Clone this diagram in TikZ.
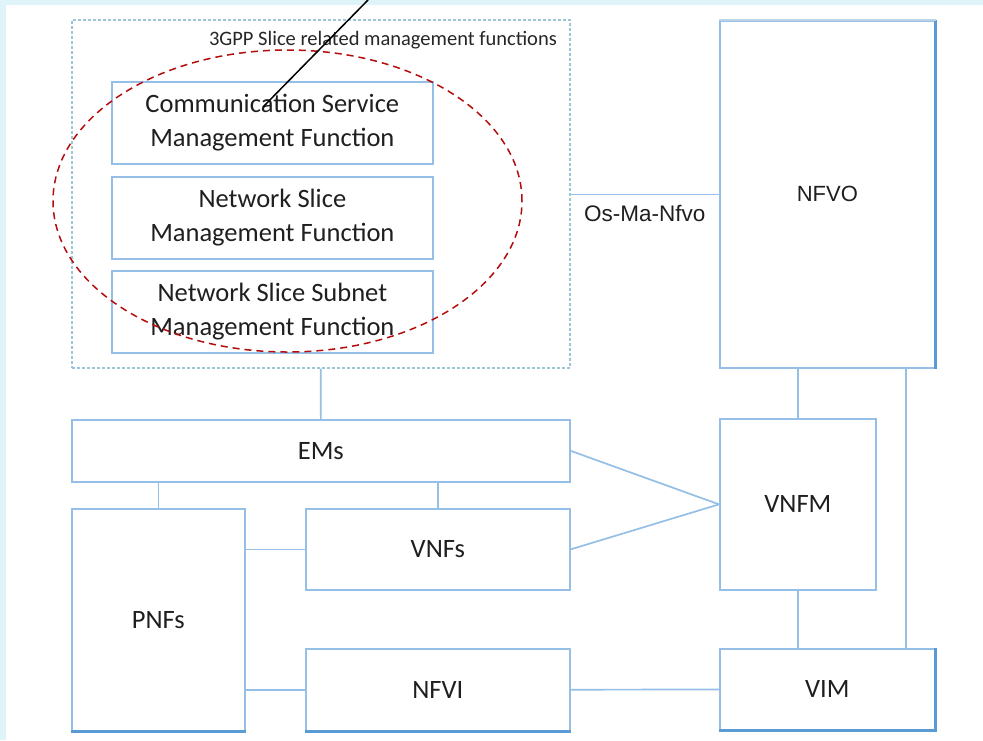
\documentclass[tikz,border=0pt]{standalone}
\usepackage{fontspec}
\setmainfont{Carlito}
\newfontfamily\arialfont{Liberation Sans}
\usetikzlibrary{positioning}
\definecolor{boxblue}{HTML}{95BFE6}
\definecolor{rimblue}{HTML}{5B9BD5}
\definecolor{rimpale}{HTML}{BDD3E8}
\definecolor{groupgray}{HTML}{9CC6D6}
\definecolor{ringred}{HTML}{B40C0C}
\definecolor{pagecyan}{HTML}{DFF4F9}

\begin{document}
\begin{tikzpicture}[x=1pt,y=-1pt,
	fnbox/.style={draw=boxblue, line width=1.7pt, inner sep=0pt, align=center, anchor=north west,
		text=black!88, font=\fontsize{26.5}{34}\selectfont},
	nfvbox/.style={fnbox, font=\arialfont\fontsize{22}{26}\selectfont},
	link/.style={draw=boxblue, line width=1.7pt},
	rim/.style={draw=rimblue, line width=2.8pt},
	ring/.style={draw=ringred, line width=1.5pt, dash pattern=on 7pt off 5pt}]
	\fill[pagecyan] (0,0) rectangle (983,740);
	\fill[white] (6,5) rectangle (983,740);
	\useasboundingbox (0,0) rectangle (983,740);

	% 3GPP group
	\node[draw=groupgray, line width=1.6pt, dash pattern=on 3pt off 2pt, anchor=north west,
		minimum width=498pt, minimum height=348pt, inner sep=0pt] (group) at (71,19) {};
	\node[anchor=east, inner sep=0pt, text=black!85, font=\fontsize{20.5}{24}\selectfont] (grouptitle) at (557,40) {3GPP Slice related management functions};
	\node[fnbox, minimum width=321pt, minimum height=82pt] (csmf) at (111,81) {Communication Service\\Management Function};
	\node[fnbox, minimum width=321pt, minimum height=82pt] (nsmf) at (111,176) {Network Slice\\Management Function};
	\node[fnbox, minimum width=321pt, minimum height=82pt] (nssmf) at (111,270) {Network Slice Subnet\\Management Function};

	% MANO side
	\node[nfvbox, minimum width=215pt, minimum height=347pt] (nfvo) at (719,20) {NFVO};
	\node[fnbox, minimum width=156pt, minimum height=171pt] (vnfm) at (719,418) {VNFM};
	\node[fnbox, minimum width=215pt, minimum height=81pt] (vim) at (719,648) {VIM};

	% network functions
	\node[fnbox, minimum width=498pt, minimum height=62pt] (ems) at (71,419) {EMs};
	\node[fnbox, minimum width=173pt, minimum height=222pt] (pnfs) at (71,508) {PNFs};
	\node[fnbox, minimum width=264pt, minimum height=81pt] (vnfs) at (305,508) {VNFs};
	\node[fnbox, minimum width=264pt, minimum height=82pt] (nfvi) at (305,648) {NFVI};

	% heavier edges
	\draw[rim] (pnfs.south west) -- (pnfs.south east);
	\draw[rim] (nfvi.south west) -- (nfvi.south east);
	\draw[rim] (vim.south west) -- (vim.south east) -- (vim.north east);
	\draw[rim] (nfvo.north east) -- (nfvo.south east);
	\draw[rimpale, line width=2.8pt] (nfvo.north west) -- (nfvo.north east);

	% links
	\draw[link] (nfvo.west) -- (nfvo.west -| group.east) node[midway, below=10pt, inner sep=0pt, text=black!88, font=\arialfont\fontsize{22.5}{26}\selectfont] {Os-Ma-Nfvo};
	\draw[link] (group.south) -- (ems.north);
	\draw[link] (pnfs.north) -- (pnfs.north |- ems.south);
	\draw[link] (vnfs.north) -- (vnfs.north |- ems.south);
	\draw[link] (vnfs.west) -- (vnfs.west -| pnfs.east);
	\draw[link] (nfvi.west) -- (nfvi.west -| pnfs.east);
	\draw[link] (nfvi) -- (vim);
	\draw[link] (ems.east) -- (vnfm.west);
	\draw[link] (vnfs.east) -- (vnfm.west);
	\draw[link] (vnfm.north) -- (vnfm.north |- nfvo.south);
	\draw[link] (vnfm.south) -- (vnfm.south |- vim.north);
	\draw[link] ([xshift=-30pt]vim.north east) -- ([xshift=-30pt]vim.north east |- nfvo.south);

	% highlight
	\draw[ring] (287.5,201) ellipse [x radius=234.5pt, y radius=151pt];
	\coordinate (pointtip) at (263,107);
	\coordinate (pointtop) at (368,0);
	\draw[black, line width=1.5pt] (pointtip) -- (pointtop);
\end{tikzpicture}
\end{document}
